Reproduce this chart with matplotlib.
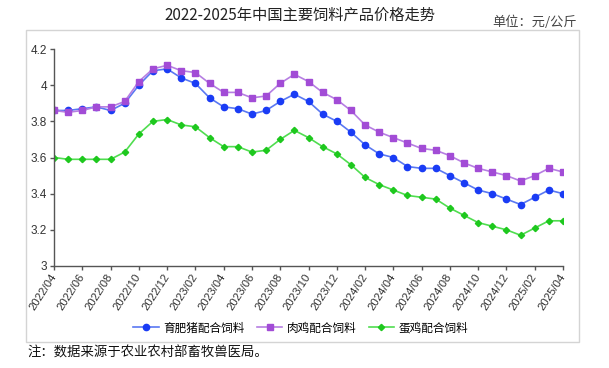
import matplotlib
matplotlib.use("Agg")
import matplotlib.pyplot as plt
from matplotlib.patches import Rectangle

plt.rcParams['font.family'] = ['Liberation Sans', 'Noto Sans CJK SC', 'DejaVu Sans']

months = []
for y in range(2022, 2026):
    for m in range(1, 13):
        if (y == 2022 and m < 4) or (y == 2025 and m > 4):
            continue
        months.append(f"{y}/{m:02d}")

pig = [3.86, 3.86, 3.87, 3.88, 3.86, 3.90, 4.00, 4.08, 4.09, 4.04, 4.01, 3.93,
       3.88, 3.87, 3.84, 3.86, 3.91, 3.95, 3.91, 3.84, 3.80, 3.74, 3.67, 3.62,
       3.60, 3.55, 3.54, 3.54, 3.50, 3.46, 3.42, 3.40, 3.37, 3.34, 3.38, 3.42, 3.40]
broiler = [3.86, 3.85, 3.86, 3.88, 3.88, 3.91, 4.02, 4.09, 4.11, 4.08, 4.07, 4.01,
           3.96, 3.96, 3.93, 3.94, 4.01, 4.06, 4.02, 3.96, 3.92, 3.86, 3.78, 3.74,
           3.71, 3.68, 3.65, 3.64, 3.61, 3.57, 3.54, 3.52, 3.50, 3.47, 3.50, 3.54, 3.52]
layer = [3.60, 3.59, 3.59, 3.59, 3.59, 3.63, 3.73, 3.80, 3.81, 3.78, 3.77, 3.71,
         3.66, 3.66, 3.63, 3.64, 3.70, 3.75, 3.71, 3.66, 3.62, 3.56, 3.49, 3.45,
         3.42, 3.39, 3.38, 3.37, 3.32, 3.28, 3.24, 3.22, 3.20, 3.17, 3.21, 3.25, 3.25]
series_names = ["育肥猪配合饲料", "肉鸡配合饲料", "蛋鸡配合饲料"]
y_ticks = [3, 3.2, 3.4, 3.6, 3.8, 4, 4.2]
y_tick_labels = ["3", "3.2", "3.4", "3.6", "3.8", "4", "4.2"]

W, H = 609, 368
fig = plt.figure(figsize=(W / 100, H / 100), dpi=100)

# outer frame
fig.patches.append(Rectangle((26 / W, 1 - 342 / H), (579 - 26) / W, (342 - 30) / H,
                             transform=fig.transFigure, fill=False,
                             edgecolor="#d4d4d4", linewidth=1.0))

ax = fig.add_axes([54 / W, 1 - 266 / H, (563 - 54) / W, (266 - 49) / H])
x = list(range(len(months)))

styles = [
    (pig, "#5a78f2", "#1a3cf5", "o", 4.5),
    (broiler, "#b67ee2", "#a24cd6", "s", 4.5),
    (layer, "#50dd50", "#1ec81e", "D", 3.2),
]
handles = []
for (vals, lc, mc, mk, ms), name in zip(styles, series_names):
    h, = ax.plot(x, vals, color=lc, linewidth=1.2, marker=mk, markersize=ms,
                 markerfacecolor=mc, markeredgecolor=mc, label=name)
    handles.append(h)

ax.set_xlim(0, len(months) - 1)
ax.set_ylim(3, 4.2)
ax.set_yticks(y_ticks)
ax.set_yticklabels(y_tick_labels)
ax.set_xticks(x[::2])
ax.set_xticklabels(months[::2], rotation=57, ha="right", va="center",
                   rotation_mode="anchor")

for s in ["top", "right"]:
    ax.spines[s].set_visible(False)
for s in ["left", "bottom"]:
    ax.spines[s].set_color("#555555")
    ax.spines[s].set_linewidth(1.0)
ax.tick_params(axis="both", colors="#555555", labelcolor="#333333", length=3,
               width=1.0, labelsize=8.5, pad=2)
ax.tick_params(axis="x", labelsize=8.2, pad=3)

fig.legend(handles=handles, loc="center", bbox_to_anchor=(301 / W, 1 - 328 / H),
           ncol=3, frameon=False, handlelength=2.2, handletextpad=0.4,
           columnspacing=1.0, prop={"family": ["Noto Sans CJK SC"], "size": 8.4})

fig.text(300 / W, 1 - 15 / H, "2022-2025年中国主要饲料产品价格走势", ha="center", va="center",
         fontsize=11, color="#222222", family=["Noto Sans CJK SC", "DejaVu Sans"])
fig.text(535 / W, 1 - 22 / H, "单位：元/公斤", ha="center", va="center",
         fontsize=9.5, color="#444444", family=["Noto Sans CJK SC", "DejaVu Sans"])
fig.text(27 / W, 1 - 353 / H, "注：数据来源于农业农村部畜牧兽医局。", ha="left", va="center",
         fontsize=9.6, color="#111111", family=["Noto Sans CJK SC", "DejaVu Sans"])

fig.savefig("out.png", dpi=100)
